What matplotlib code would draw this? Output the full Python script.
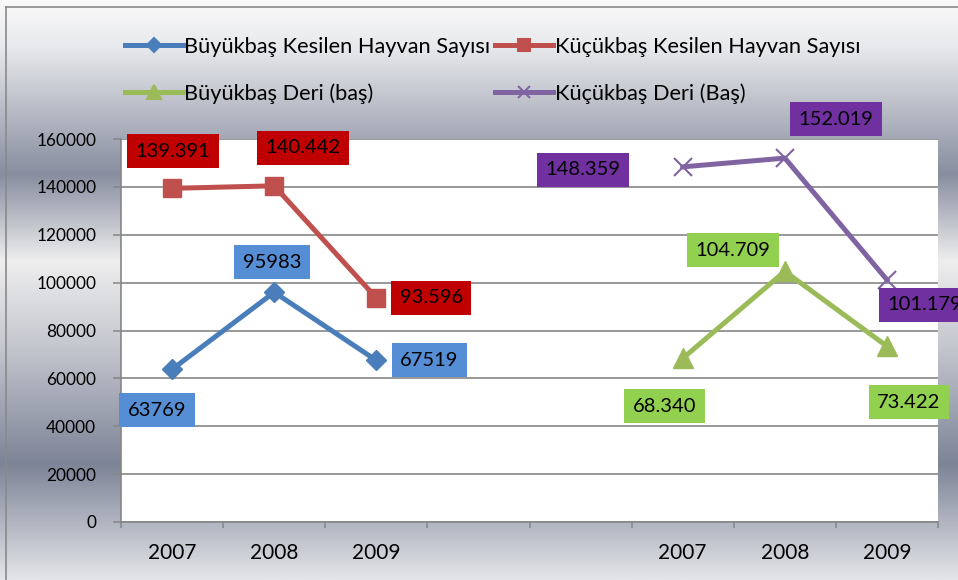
import numpy as np
import matplotlib
matplotlib.use("Agg")
import matplotlib.pyplot as plt
from matplotlib.lines import Line2D

plt.rcParams['font.family'] = ['Lato', 'DejaVu Sans']

# kategori eksenindeki yillar (iki grup arasinda iki bos kategori var)
years = ['2007', '2008', '2009', '', '', '2007', '2008', '2009']

nan = np.nan
buyukbas_kesilen = [63769, 95983, 67519, nan, nan, nan, nan, nan]
kucukbas_kesilen = [139391, 140442, 93596, nan, nan, nan, nan, nan]
buyukbas_deri = [nan, nan, nan, nan, nan, 68340, 104709, 73422]
kucukbas_deri = [nan, nan, nan, nan, nan, 148359, 152019, 101179]

series_names = ['Büyükbaş Kesilen Hayvan Sayısı', 'Küçükbaş Kesilen Hayvan Sayısı',
                'Büyükbaş Deri (baş)', 'Küçükbaş Deri (Baş)']

# etiket kutularinin noktaya gore kaydirmalari (piksel)
offsets = {
    0: [(-15, -41), (-2, 30), (53, 0)],
    1: [(1, 37), (29, 38), (55, 0)],
    2: [(-18, -48), (-52, 21), (22, -56)],
    3: [(-100, -3), (51, 39), (38, -25)],
}

line_colors = ['#4A7EBB', '#C0504D', '#9BBB59', '#8064A2']
box_colors = ['#558ED5', '#C00000', '#92D050', '#7030A0']
markers = ['D', 's', '^', 'x']
msizes = [10, 13, 14, 13]


def fmt(v, dotted):
    v = int(v)
    return f"{v:,}".replace(',', '.') if dotted else str(v)


fig = plt.figure(figsize=(9.58, 5.80), dpi=100)

# arka plan gumus gecisi
stops = [0.0, 0.08, 0.30, 0.45, 0.60, 0.80, 1.0]
cols = np.array([(250, 250, 250), (232, 233, 236), (136, 142, 160), (238, 238, 238),
                 (196, 198, 206), (125, 132, 151), (228, 229, 233)]) / 255.0
yy = np.linspace(0, 1, 580)
grad = np.stack([np.interp(yy, stops, cols[:, c]) for c in range(3)], axis=-1)[:, None, :]
bg = fig.add_axes([0, 0, 1, 1], zorder=-10)
bg.imshow(grad, aspect='auto', extent=[0, 1, 0, 1], interpolation='bilinear')
bg.set_xlim(0, 1)
bg.set_ylim(0, 1)
bg.axis('off')
fig.add_artist(Line2D([6 / 958, 1], [1 - 7 / 580, 1 - 7 / 580], color='#8A8A8A', lw=1.2))
fig.add_artist(Line2D([6 / 958, 6 / 958], [0, 1 - 7 / 580], color='#8A8A8A', lw=1.2))

ax = fig.add_axes([121 / 958, 58 / 580, 817 / 958, 383 / 580])
ax.set_facecolor('white')

x = np.arange(len(years))
data = [buyukbas_kesilen, kucukbas_kesilen, buyukbas_deri, kucukbas_deri]
for i, vals in enumerate(data):
    mew = 1.5 if markers[i] == 'x' else 1
    ax.plot(x, vals, color=line_colors[i], lw=3.6, marker=markers[i], ms=msizes[i],
            mec=line_colors[i], mfc=line_colors[i], mew=mew, zorder=3)
    pts = [(xi, v) for xi, v in zip(x, vals) if not np.isnan(v)]
    for (xi, v), off in zip(pts, offsets[i]):
        ax.annotate(fmt(v, i != 0), xy=(xi, v), xytext=off, textcoords='offset pixels',
                    ha='center', va='center', fontsize=14.5, color='black', zorder=5,
                    annotation_clip=False,
                    bbox=dict(boxstyle='square,pad=0.42', fc=box_colors[i], ec='none'))

ax.set_xlim(-0.5, 7.5)
ax.set_ylim(0, 160000)
ax.set_yticks(np.arange(0, 160001, 20000))
ax.yaxis.grid(True, color='#868686', lw=1.2)
ax.set_axisbelow(True)
ax.tick_params(axis='y', length=5.8, width=1.1, color='#868686', pad=12, labelsize=12.4)

ax.set_xticks(np.arange(-0.5, 8, 1))
ax.set_xticklabels([])
ax.set_xticks(x, minor=True)
ax.set_xticklabels(years, minor=True)
ax.tick_params(axis='x', which='major', length=4.3, width=1.1, color='#868686')
ax.tick_params(axis='x', which='minor', length=0, pad=15, labelsize=15)

for side in ['top', 'right']:
    ax.spines[side].set_visible(False)
for side in ['left', 'bottom']:
    ax.spines[side].set_color('#868686')
    ax.spines[side].set_linewidth(1.2)

# lejant: satir 1 mavi/kirmizi, satir 2 yesil/mor
handles = []
for i in range(4):
    ms = {'D': 7, 's': 9, '^': 10, 'x': 9}[markers[i]]
    handles.append(Line2D([], [], color=line_colors[i], lw=3.6, marker=markers[i], ms=ms,
                          mfc=line_colors[i], mec=line_colors[i], mew=1.5))
order = [0, 2, 1, 3]
fig.legend([handles[k] for k in order], [series_names[k] for k in order],
           loc='upper left', bbox_to_anchor=(125 / 958, 1 - 37 / 580), ncol=2,
           frameon=False, fontsize=15.7, handlelength=2.66, handletextpad=0.06,
           columnspacing=0.23, labelspacing=1.19, borderpad=0, borderaxespad=0)

fig.savefig('out.png', dpi=100)
